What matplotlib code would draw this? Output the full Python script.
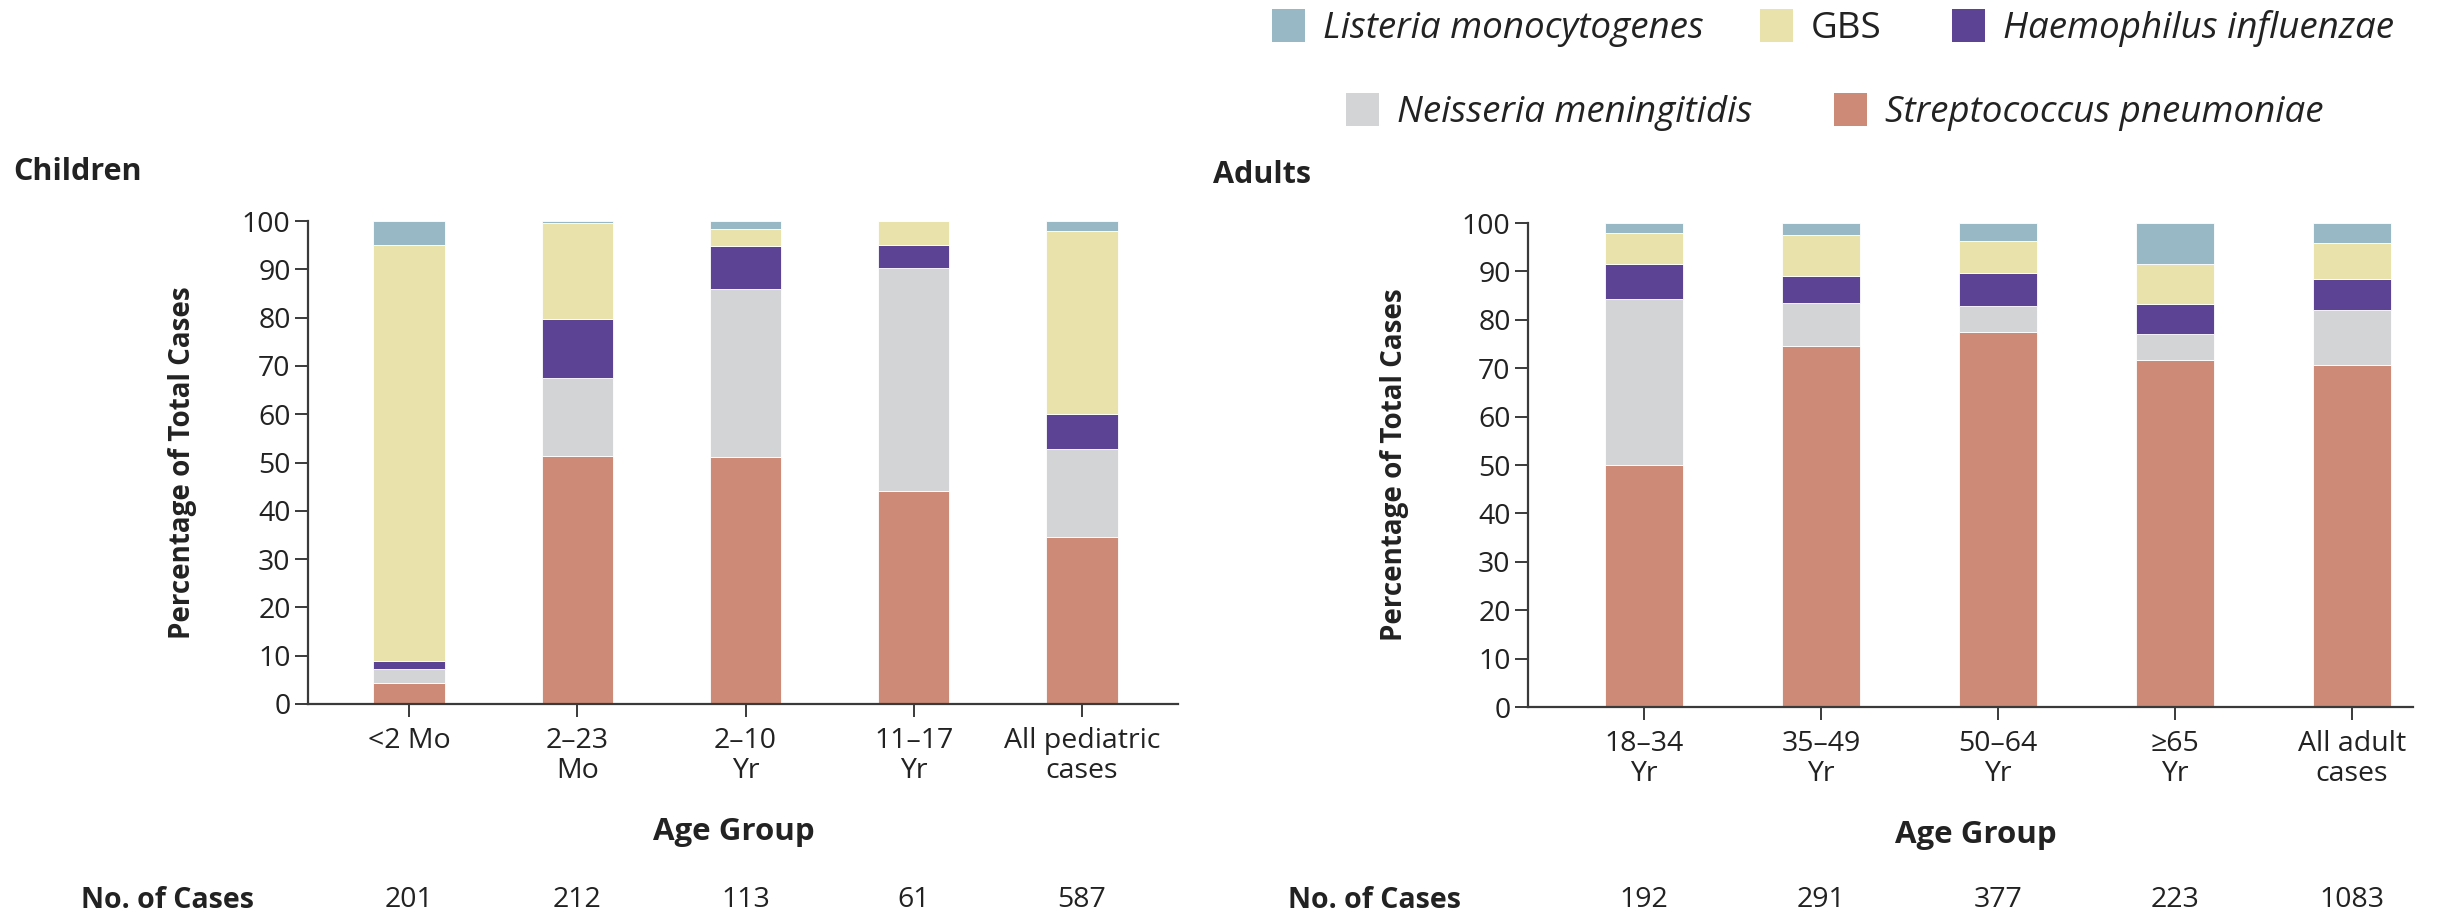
import matplotlib
matplotlib.use("Agg")
import matplotlib.pyplot as plt
from matplotlib.transforms import blended_transform_factory
import numpy as np

plt.rcParams['font.family'] = ['Open Sans', 'DejaVu Sans']

# ---- data ----
species = ['Streptococcus pneumoniae', 'Neisseria meningitidis', 'Haemophilus influenzae', 'GBS', 'Listeria monocytogenes']
colors = ['#CD8B77', '#D3D4D6', '#5C4394', '#E9E3AB', '#98B8C5']

children_groups = ['<2 Mo', '2–23\nMo', '2–10\nYr', '11–17\nYr', 'All pediatric\ncases']
children_cases = [201, 212, 113, 61, 587]
child_sp = [4.3, 51.3, 51.2, 44.2, 34.5]
child_nm = [3.0, 16.1, 34.7, 46.0, 18.3]
child_hi = [1.5, 12.3, 8.9, 4.9, 7.2]
child_gbs = [86.2, 19.9, 3.5, 4.9, 37.9]
child_lm = [5.0, 0.4, 1.7, 0.0, 2.1]

adult_groups = ['18–34\nYr', '35–49\nYr', '50–64\nYr', '≥65\nYr', 'All adult\ncases']
adult_cases = [192, 291, 377, 223, 1083]
adult_sp = [49.9, 74.6, 77.4, 71.7, 70.6]
adult_nm = [34.4, 8.8, 5.5, 5.3, 11.5]
adult_hi = [7.3, 5.6, 6.7, 6.3, 6.3]
adult_gbs = [6.3, 8.5, 6.7, 8.2, 7.5]
adult_lm = [2.1, 2.5, 3.7, 8.5, 4.1]

TXT = '#222222'
AX = '#3a3a3a'
W, H = 2438, 915
fig = plt.figure(figsize=(W / 100, H / 100), dpi=100)


def make_axes(left, right, top, bottom):
    return fig.add_axes([left / W, 1 - bottom / H, (right - left) / W, (bottom - top) / H])


ax_c = make_axes(308, 1178, 221, 704)
ax_a = make_axes(1528, 2413, 223, 707)


def draw(ax, groups, series, width, xlim, cases, ylab_x, xlab_x):
    x = np.arange(len(groups))
    bottom = np.zeros(len(groups))
    handles = []
    for vals, col, name in zip(series, colors, species):
        v = np.array(vals)
        h = ax.bar(x, v, width, bottom=bottom, color=col, edgecolor='white', linewidth=0.6, label=name)
        handles.append(h)
        bottom += v
    ax.set_xlim(*xlim)
    ax.set_ylim(0, 100)
    ax.set_yticks(range(0, 101, 10))
    ax.set_xticks(x)
    ax.set_xticklabels(groups, linespacing=1.08)
    for s in ['top', 'right']:
        ax.spines[s].set_visible(False)
    for s in ['left', 'bottom']:
        ax.spines[s].set_color(AX)
        ax.spines[s].set_linewidth(1.6)
    ax.tick_params(axis='both', colors=AX, labelcolor=TXT, labelsize=20.5, width=1.4, length=9.5)
    ax.tick_params(axis='y', pad=3)
    ax.tick_params(axis='x', pad=7)
    ax.set_ylabel('Percentage of Total Cases', fontsize=20, fontweight='bold', color=TXT)
    ax.yaxis.set_label_coords(ylab_x, 0.5)
    ax.set_xlabel('Age Group', fontsize=22.5, fontweight='bold', color=TXT, va='center')
    ax.xaxis.set_label_coords(xlab_x, -0.264)
    tr = blended_transform_factory(ax.transData, fig.transFigure)
    for xi, n in zip(x, cases):
        ax.text(xi, 1 - 900 / H, str(n), transform=tr, ha='center', va='center', fontsize=20.5, color=TXT)
    return handles


handles = draw(ax_c, children_groups, [child_sp, child_nm, child_hi, child_gbs, child_lm],
               0.425, (-0.601, 4.571), children_cases, -0.128, 0.49)
draw(ax_a, adult_groups, [adult_sp, adult_nm, adult_hi, adult_gbs, adult_lm],
     0.44, (-0.655, 4.345), adult_cases, -0.134, 0.506)

fig.text(13 / W, 1 - 172 / H, 'Children', fontsize=22, fontweight='bold', color=TXT, va='center', ha='left')
fig.text(1213 / W, 1 - 175 / H, 'Adults', fontsize=22, fontweight='bold', color=TXT, va='center', ha='left')
fig.text(81 / W, 1 - 900 / H, 'No. of Cases', fontsize=20.5, fontweight='bold', color=TXT, va='center', ha='left')
fig.text(1288 / W, 1 - 900 / H, 'No. of Cases', fontsize=20.5, fontweight='bold', color=TXT, va='center', ha='left')

# legend: one entry per legend, placed as in the reference
legend_order = [4, 3, 2, 1, 0]
legend_anchor = [(1272, 28), (1760, 28), (1952, 28), (1346, 112), (1834, 112)]
for idx, (lx, ly) in zip(legend_order, legend_anchor):
    style = 'normal' if species[idx] == 'GBS' else 'italic'
    lg = fig.legend([handles[idx]], [species[idx]], frameon=False, borderpad=0, borderaxespad=0,
                    handlelength=0.9, handleheight=1.0, handletextpad=0.49, loc='center left',
                    bbox_to_anchor=(lx / W, 1 - ly / H), prop={'size': 26.5, 'style': style})
    for t in lg.get_texts():
        t.set_color(TXT)
    for p in lg.legend_handles:
        p.set_edgecolor('none')

fig.savefig('out.png', dpi=100, facecolor='white')
